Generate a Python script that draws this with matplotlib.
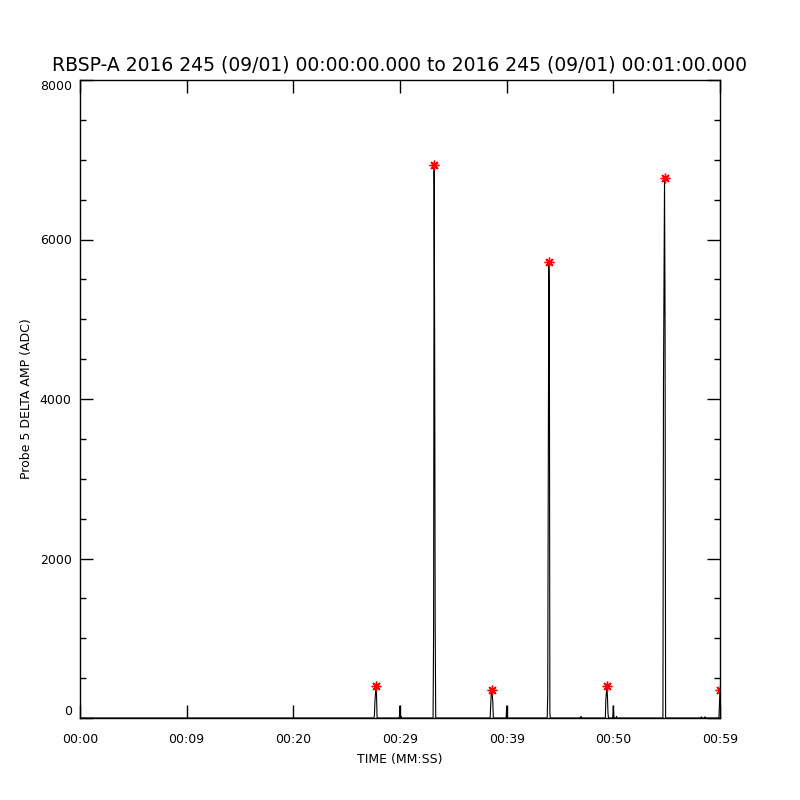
import matplotlib
matplotlib.use('Agg')
import matplotlib.pyplot as plt
import numpy as np

# Probe 5 delta amplitude samples (seconds after 00:00:00, ADC counts)
time_s = [0.0, 27.55, 27.6, 27.65, 27.75, 27.8, 27.85,
          29.9, 29.95, 30.0, 30.05, 30.1, 30.15,
          33.1, 33.15, 33.2, 33.25, 33.3, 33.35,
          38.45, 38.5, 38.55, 38.62, 38.7, 38.75,
          39.95, 40.0, 40.05,
          43.8, 43.85, 43.95, 44.0, 44.05, 44.1,
          46.9, 46.97, 47.05,
          49.25, 49.3, 49.4, 49.45, 49.5, 49.55,
          49.95, 50.0, 50.05, 50.25, 50.3, 50.35,
          54.65, 54.7, 54.8, 54.85, 54.9,
          58.2, 58.25, 58.3, 58.55, 58.6, 58.65,
          59.9, 60.0]
amp_adc = [0, 0, 30, 210, 400, 290, 0,
           0, 20, 150, 0, 20, 0,
           0, 1100, 6940, 4680, 1100, 0,
           0, 150, 300, 350, 200, 0,
           0, 150, 0,
           0, 290, 5720, 5300, 60, 0,
           0, 20, 0,
           0, 240, 400, 260, 60, 0,
           0, 150, 0, 0, 20, 0,
           0, 4150, 6775, 4940, 0,
           0, 15, 0, 0, 15, 0,
           0, 350]

# detected peaks
peak_t = [27.75, 33.2, 38.62, 43.95, 49.4, 54.8, 60.0]
peak_amp = [400, 6940, 350, 5720, 400, 6775, 350]

tick_pos = [0, 10, 20, 30, 40, 50, 60]
tick_lab = ['00:00', '00:09', '00:20', '00:29', '00:39', '00:50', '00:59']

fig = plt.figure(figsize=(8, 8), dpi=100)
ax = fig.add_axes([0.1, 0.1025, 0.8, 0.7975])

ax.plot(time_s, amp_adc, color='black', lw=0.8)
ax.plot(peak_t, peak_amp, linestyle='none', marker=(8, 2, 0), color='red',
        markersize=7, markeredgewidth=1.0)

ax.set_xlim(0, 60)
ax.set_ylim(0, 8000)
ax.set_xticks(tick_pos)
ax.set_xticklabels(tick_lab)
ax.set_yticks([0, 2000, 4000, 6000, 8000])
ax.set_yticks(np.arange(0, 8001, 500), minor=True)

ax.tick_params(axis='both', which='major', direction='in', length=9.5, width=1,
               top=True, right=True, labelsize=9)
ax.tick_params(axis='y', which='minor', direction='in', length=4.5, width=1,
               right=True)
ax.tick_params(axis='x', which='major', pad=11)
ax.tick_params(axis='y', which='major', pad=6)
for s in ax.spines.values():
    s.set_linewidth(1)

ylabs = ax.get_yticklabels()
ylabs[0].set_verticalalignment('bottom')
ylabs[-1].set_verticalalignment('top')

ax.set_xlabel('TIME (MM:SS)', fontsize=9, labelpad=5)
ax.set_ylabel('Probe 5 DELTA AMP (ADC)', fontsize=9, labelpad=5)
ax.set_title('RBSP-A 2016 245 (09/01) 00:00:00.000 to 2016 245 (09/01) 00:01:00.000',
             fontsize=13.5, pad=7)

fig.savefig('out.png', dpi=100)
